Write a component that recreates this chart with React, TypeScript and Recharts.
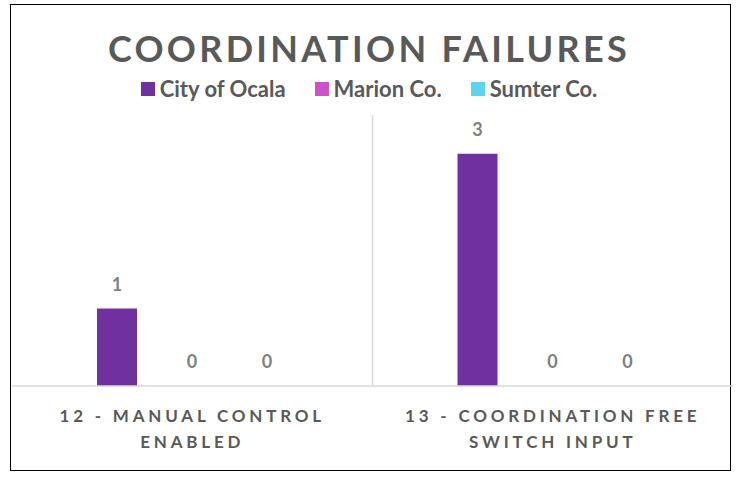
import React from 'react';
import { BarChart, Bar, XAxis, YAxis, CartesianGrid, Legend, LabelList } from 'recharts';

const categories = ['12 - MANUAL CONTROL ENABLED', '13 - COORDINATION FREE SWITCH INPUT'];
const tickLines = [
  ['12 - MANUAL CONTROL', 'ENABLED'],
  ['13 - COORDINATION FREE', 'SWITCH INPUT'],
];
const seriesNames = ['City of Ocala', 'Marion Co.', 'Sumter Co.'];
const seriesKeys = ['ocala', 'marion', 'sumter'];
const seriesColors = ['#7030A0', '#CF50C9', '#5CD3EF'];
const cityOfOcala = [1, 3];
const marionCo = [0, 0];
const sumterCo = [0, 0];
const title = 'COORDINATION FAILURES';

const data = categories.map((c, i) => ({
  category: c,
  ocala: cityOfOcala[i],
  marion: marionCo[i],
  sumter: sumterCo[i],
}));

const FONT = 'Lato, "Open Sans", sans-serif';

const XTick = (props: any) => {
  const { x, y, payload } = props;
  const idx = categories.indexOf(payload.value);
  const lines = idx >= 0 ? tickLines[idx] : [String(payload.value)];
  return (
    <g>
      {lines.map((ln, i) => (
        <text
          key={i}
          x={x}
          y={y + 28 + i * 26}
          textAnchor="middle"
          fill="#595959"
          fontFamily={FONT}
          fontWeight={700}
          fontSize={17}
          style={{ letterSpacing: '3.8px' }}
        >
          {ln}
        </text>
      ))}
    </g>
  );
};

const ValueLabel = (props: any) => {
  const { x, y, width, value } = props;
  return (
    <text
      x={x + width / 2}
      y={y - 18}
      textAnchor="middle"
      fill="#7F7F7F"
      fontFamily={FONT}
      fontWeight={700}
      fontSize={18}
    >
      {value}
    </text>
  );
};

const LegendContent = () => (
  <div
    style={{
      display: 'flex',
      justifyContent: 'center',
      alignItems: 'center',
      fontFamily: FONT,
      fontWeight: 700,
      fontSize: 22,
      color: '#595959',
      gap: 29,
      lineHeight: '26px',
    }}
  >
    {seriesNames.map((n, i) => (
      <div key={n} style={{ display: 'flex', alignItems: 'center' }}>
        <span
          style={{
            display: 'inline-block',
            width: 14,
            height: 14,
            background: seriesColors[i],
            marginRight: 5,
          }}
        />
        <span>{n}</span>
      </div>
    ))}
  </div>
);

export default function App() {
  return (
    <div style={{ position: 'absolute', left: 0, top: 0, width: 738, height: 478, background: '#fff' }}>
      <div
        style={{
          position: 'absolute',
          left: 10,
          top: 4,
          width: 719,
          height: 465,
          border: '1.5px solid #000',
        }}
      />
      <div
        style={{
          position: 'absolute',
          left: 0,
          top: 26,
          width: 738,
          textAlign: 'center',
          fontFamily: FONT,
          fontWeight: 700,
          fontSize: 36,
          letterSpacing: 3.3,
          color: '#595959',
          lineHeight: '44px',
        }}
      >
        {title}
      </div>
      <div style={{ position: 'absolute', left: 0, top: 0 }}>
        <BarChart
          width={738}
          height={478}
          data={data}
          margin={{ top: 115, right: 5, bottom: 7, left: 12 }}
          barSize={40}
          barGap={35}
        >
          <CartesianGrid
            horizontal={false}
            stroke="#D9D9D9"
            strokeWidth={1.5}
            verticalCoordinatesGenerator={({ offset }: any) =>
              categories.slice(1).map((_, i) => offset.left + ((i + 1) * offset.width) / categories.length)
            }
          />
          <XAxis
            dataKey="category"
            tickLine={false}
            axisLine={{ stroke: '#D9D9D9', strokeWidth: 1.5 }}
            height={85}
            interval={0}
            tick={<XTick />}
          />
          <YAxis hide domain={[0, 3.5]} />
          <Legend
            verticalAlign="middle"
            align="center"
            layout="horizontal"
            wrapperStyle={{ top: 76, left: 0, width: 738 }}
            content={<LegendContent />}
          />
          {seriesKeys.map((k, i) => (
            <Bar
              key={k}
              dataKey={k}
              name={seriesNames[i]}
              fill={seriesColors[i]}
              isAnimationActive={false}
              minPointSize={0.01}
            >
              <LabelList dataKey={k} content={<ValueLabel />} />
            </Bar>
          ))}
        </BarChart>
      </div>
    </div>
  );
}
